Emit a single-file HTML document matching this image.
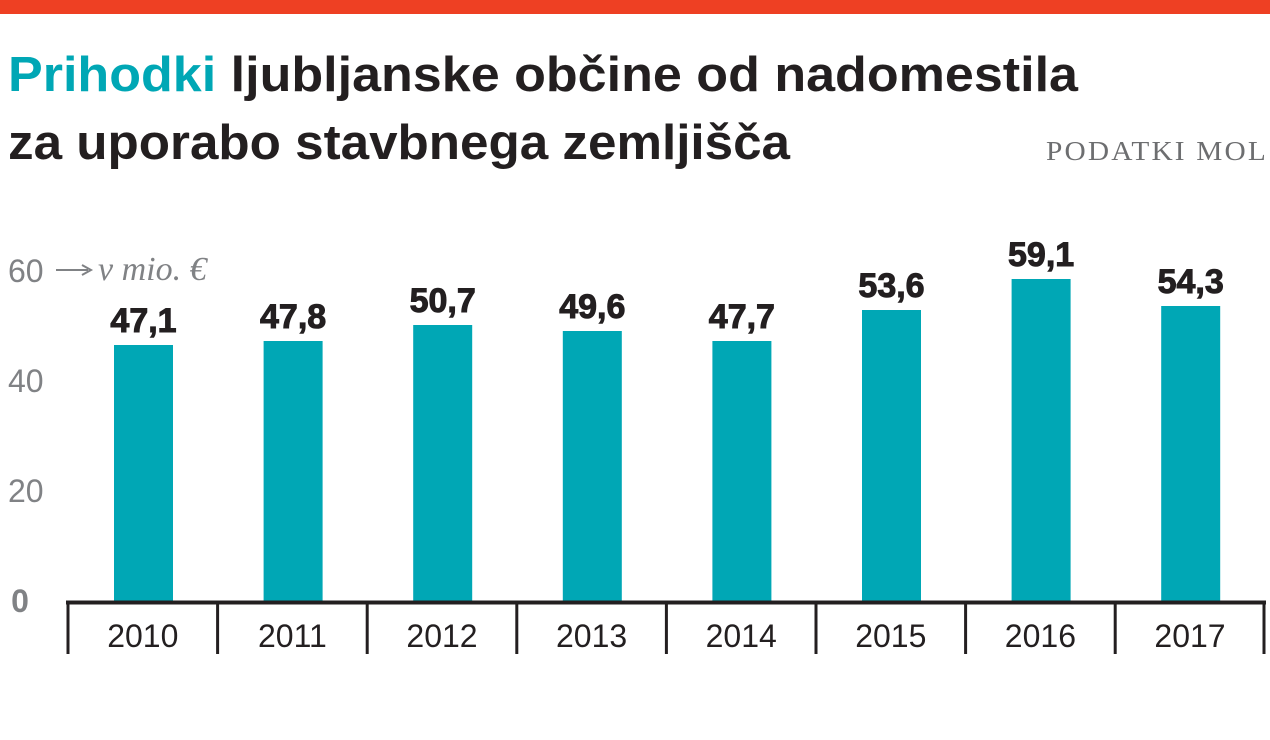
<!DOCTYPE html>
<html><head><meta charset="utf-8"><style>
html,body{margin:0;padding:0;background:#fff;}
svg{display:block;}
</style></head><body>
<svg width="1270" height="740" viewBox="0 0 1270 740" xmlns="http://www.w3.org/2000/svg">
<rect x="0" y="0" width="1270" height="14" fill="#ee4023"/>
<g font-family="'Liberation Sans', sans-serif" font-weight="bold" font-size="49" fill="#231f20">
<text x="8" y="91" textLength="1070" lengthAdjust="spacingAndGlyphs"><tspan fill="#00a7b5">Prihodki</tspan> ljubljanske občine od nadomestila</text>
<text x="8" y="159" textLength="782" lengthAdjust="spacingAndGlyphs">za uporabo stavbnega zemljišča</text>
</g>
<text x="1268" y="160" text-anchor="end" font-family="'Liberation Serif', serif" font-size="27" fill="#6d6e70" letter-spacing="2" textLength="222" lengthAdjust="spacingAndGlyphs">PODATKI MOL</text>
<g font-family="'Liberation Sans', sans-serif" font-size="32" fill="#808285">
<text x="8" y="282">60</text>
<text x="8" y="392">40</text>
<text x="8" y="502">20</text>
<text x="20" y="612" font-weight="bold" text-anchor="middle">0</text>
</g>
<line x1="56" y1="270" x2="88" y2="270" stroke="#808285" stroke-width="2"/>
<path d="M82 265 L91 270 L82 275" fill="none" stroke="#808285" stroke-width="2"/>
<text x="98" y="280" font-family="'Liberation Serif', serif" font-style="italic" font-size="34" fill="#808285">v mio. €</text>
<g fill="#00a7b5">
<rect x="114" y="345" width="59" height="257"/>
<rect x="263.6" y="341" width="59" height="261"/>
<rect x="413.2" y="325" width="59" height="277"/>
<rect x="562.8" y="331" width="59" height="271"/>
<rect x="712.4" y="341" width="59" height="261"/>
<rect x="862" y="310" width="59" height="292"/>
<rect x="1011.6" y="279" width="59" height="323"/>
<rect x="1161.2" y="306" width="59" height="296"/>
</g>
<g font-family="'Liberation Sans', sans-serif" font-weight="bold" font-size="34" fill="#231f20" text-anchor="middle" stroke="#231f20" stroke-width="1">
<text x="143.5" y="332">47,1</text>
<text x="293.1" y="328">47,8</text>
<text x="442.7" y="312">50,7</text>
<text x="592.3" y="318">49,6</text>
<text x="741.9" y="328">47,7</text>
<text x="891.5" y="297">53,6</text>
<text x="1041.1" y="266">59,1</text>
<text x="1190.7" y="293">54,3</text>
</g>
<line x1="66" y1="602.5" x2="1266" y2="602.5" stroke="#231f20" stroke-width="4"/>
<g stroke="#231f20" stroke-width="3">
<line x1="68" y1="601" x2="68" y2="654"/><line x1="217.6" y1="601" x2="217.6" y2="654"/>
<line x1="367.2" y1="601" x2="367.2" y2="654"/><line x1="516.8" y1="601" x2="516.8" y2="654"/>
<line x1="666.4" y1="601" x2="666.4" y2="654"/><line x1="816" y1="601" x2="816" y2="654"/>
<line x1="965.6" y1="601" x2="965.6" y2="654"/><line x1="1115.2" y1="601" x2="1115.2" y2="654"/>
<line x1="1264" y1="601" x2="1264" y2="654"/>
</g>
<g font-family="'Liberation Sans', sans-serif" font-size="32" fill="#231f20" text-anchor="middle">
<text x="142.8" y="647">2010</text><text x="292.4" y="647">2011</text>
<text x="442" y="647">2012</text><text x="591.6" y="647">2013</text>
<text x="741.2" y="647">2014</text><text x="890.8" y="647">2015</text>
<text x="1040.4" y="647">2016</text><text x="1190" y="647">2017</text>
</g>
</svg>
</body></html>
